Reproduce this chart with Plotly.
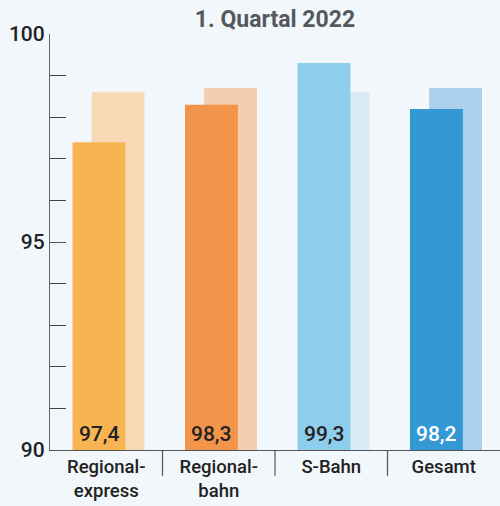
import plotly.graph_objects as go

categories = ["Regional-<br>express", "Regional-<br>bahn", "S-Bahn", "Gesamt"]
values_current = [97.4, 98.3, 99.3, 98.2]
values_previous = [98.6, 98.7, 98.6, 98.7]
labels_current = ["97,4", "98,3", "99,3", "98,2"]

dark_colors = ["#f8b450", "#f2954a", "#8ecdeb", "#3498d4"]
light_colors = ["#f7dab5", "#f4ceb0", "#d8eaf6", "#abcfec"]
label_colors = ["#222222", "#222222", "#222222", "#ffffff"]

BG = "#f2f7fb"
FONT = "Roboto"

fig = go.Figure()
fig.add_trace(go.Bar(
    x=categories, y=values_previous,
    marker=dict(color=light_colors, line=dict(width=0)),
    width=0.47, offset=-0.13, hoverinfo="skip",
))
fig.add_trace(go.Bar(
    x=categories, y=values_current,
    marker=dict(color=dark_colors, line=dict(width=0)),
    width=0.47, offset=-0.30,
))

for cat, lab, col in zip(categories, labels_current, label_colors):
    fig.add_annotation(x=cat, y=90, xref="x", yref="y", text=lab, showarrow=False,
                       xanchor="center", yanchor="bottom", xshift=-7, yshift=2,
                       font=dict(family=FONT, size=21, color=col, weight=500))

fig.update_layout(
    width=500, height=506,
    barmode="overlay",
    showlegend=False,
    paper_bgcolor=BG, plot_bgcolor=BG,
    margin=dict(l=50, r=0, t=34, b=56),
    font=dict(family=FONT, color="#222222"),
    title=dict(text="<b>1. Quartal 2022</b>", x=0.55, xanchor="center",
               y=1 - 19 / 506, yanchor="middle",
               font=dict(family=FONT, size=23, color="#55595e")),
    xaxis=dict(
        type="category", range=[-0.5, 3.5],
        showgrid=False, zeroline=False,
        showline=True, linecolor="#555555", linewidth=1.2,
        ticks="", tickfont=dict(family=FONT, size=18.5, color="#222222", weight=500),
    ),
    yaxis=dict(
        range=[90, 100], showgrid=False, zeroline=False,
        showline=True, linecolor="#666666", linewidth=1.2,
        tickvals=[90, 95, 100], ticktext=["90", "95", "100"],
        ticks="inside", ticklen=16, tickcolor="#555555", tickwidth=1.2,
        tickfont=dict(family=FONT, size=21, color="#222222", weight=500),
        minor=dict(dtick=1, ticks="inside", ticklen=16, tickcolor="#444444", tickwidth=1),
    ),
)

for b in [0.5, 1.5, 2.5]:
    fig.add_shape(type="line", xref="x", yref="paper", x0=b, x1=b, y0=0, y1=-0.062,
                  line=dict(color="#555555", width=1.2))

fig.write_html("out.html", config={"displayModeBar": False},
               post_script="document.body.style.margin='0';document.body.style.background='%s';" % BG)
